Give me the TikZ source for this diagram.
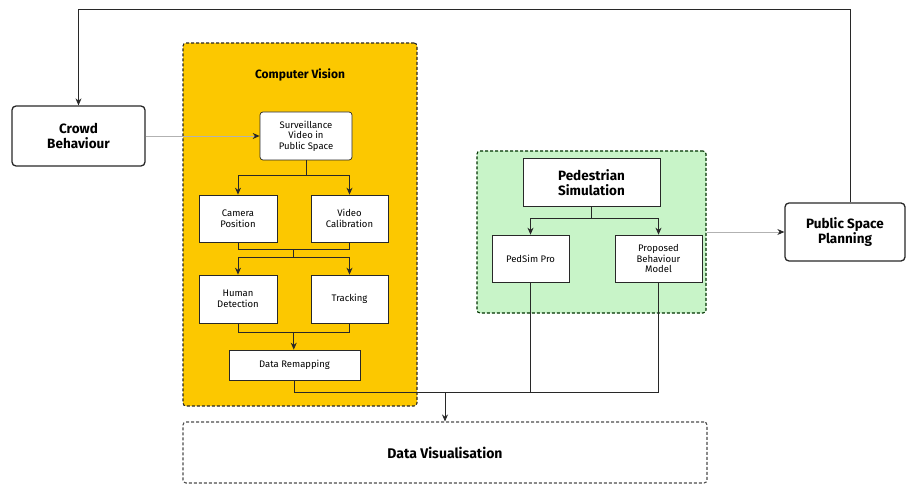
\documentclass[tikz,border=0pt]{standalone}
\usepackage{fontspec}
\setmainfont{Fira Sans}
\usetikzlibrary{arrows.meta,calc}
\definecolor{cvyellow}{RGB}{252,200,0}
\definecolor{simgreen}{RGB}{200,244,200}
\definecolor{boxline}{RGB}{40,40,40}
\begin{document}
\begin{tikzpicture}[x=1pt,y=-1pt,
  every node/.style={inner sep=0pt, align=center},
  mainbox/.style={draw=boxline, line width=1.3pt, rounded corners=4pt, fill=white, font=\fontsize{13.5}{15}\selectfont\bfseries},
  smallbox/.style={draw=boxline, line width=0.7pt, fill=white, font=\fontsize{9.5}{10.5}\selectfont},
  groupbox/.style={draw=boxline, dash pattern=on 3pt off 2pt, line width=1.1pt, rounded corners=3pt},
  conn/.style={draw=boxline, line width=0.8pt},
  arr/.style={conn, -{Stealth[length=7pt,width=6pt]}},
  grayarr/.style={draw=gray!60, line width=0.8pt, -{Stealth[length=7pt,width=6pt,color=boxline]}}
]
\useasboundingbox (0,0) rectangle (910,486);
% groups
\node[groupbox, fill=cvyellow, minimum width=234pt, minimum height=363pt] (cv) at (300,224.5) {};
\node[font=\fontsize{12}{14}\selectfont\bfseries] (cvtitle) at (300,75) {Computer Vision};
\node[groupbox, fill=simgreen, draw=black!80!green, minimum width=229pt, minimum height=162pt] (sim) at (591.5,232) {};
\node[groupbox, draw=black!70, fill=white, minimum width=524pt, minimum height=61pt, font=\fontsize{14}{16}\selectfont\bfseries] (dv) at (445,452.5) {Data Visualisation};
% main boxes
\node[mainbox, minimum width=133pt, minimum height=60pt] (crowd) at (78.5,136) {Crowd\\Behaviour};
\node[mainbox, minimum width=120pt, minimum height=58pt] (psp) at (845,232) {Public Space\\Planning};
% CV boxes
\node[smallbox, rounded corners=3pt, minimum width=92pt, minimum height=48pt] (surv) at (306,136) {Surveillance\\Video in\\Public Space};
\node[smallbox, minimum width=78pt, minimum height=47pt] (cam) at (238,218.5) {Camera\\Position};
\node[smallbox, minimum width=77pt, minimum height=47pt] (vid) at (349.5,218.5) {Video\\Calibration};
\node[smallbox, minimum width=78pt, minimum height=48pt] (hum) at (238,299) {Human\\Detection};
\node[smallbox, minimum width=77pt, minimum height=48pt] (trk) at (349.5,299) {Tracking};
\node[smallbox, minimum width=131pt, minimum height=30pt] (remap) at (294.5,365) {Data Remapping};
% Sim boxes
\node[smallbox, line width=1pt, minimum width=137pt, minimum height=48pt, font=\fontsize{13.5}{15}\selectfont\bfseries] (ped) at (591.5,183) {Pedestrian\\Simulation};
\node[smallbox, minimum width=77pt, minimum height=47pt] (pedsim) at (530.5,258.5) {PedSim Pro};
\node[smallbox, minimum width=87pt, minimum height=47pt] (prop) at (658.5,258.5) {Proposed\\Behaviour\\Model};
% feedback loop
\coordinate (topR) at ($(psp.north)+(5,-193)$);
\draw[arr] ($(psp.north)+(5,0)$) -- (topR) -| (crowd.north);
% crowd -> surveillance
\draw[grayarr] (crowd.east) -- (surv.west);
% CV flow
\draw[conn] (surv.south) -- ++(0,15) coordinate (j1);
\draw[arr] (j1) -| (cam.north);
\draw[arr] (j1) -| (vid.north);
\coordinate (m1) at ($(cam.south)!0.5!(vid.south)+(0,7)$);
\draw[conn] (cam.south) |- (m1) -| (vid.south);
\draw[conn] (m1) -- ++(0,8) coordinate (j2);
\draw[arr] (j2) -| (hum.north);
\draw[arr] (j2) -| (trk.north);
\coordinate (m2) at ($(hum.south)!0.5!(trk.south)+(0,9)$);
\draw[conn] (hum.south) |- (m2) -| (trk.south);
\draw[arr] (m2) -- (m2 |- remap.north);
% bus to data visualisation
\coordinate (bus) at ($(remap.south)+(0,12)$);
\draw[conn] (remap.south) -- (bus) -- (bus -| prop.south) -- (prop.south);
\draw[conn] (pedsim.south) -- (pedsim.south |- bus);
\draw[arr] (bus -| dv.north) -- (dv.north);
% simulation flow
\draw[conn] (ped.south) -- ++(0,11) coordinate (j3);
\draw[arr] (j3) -| (pedsim.north);
\draw[arr] (j3) -| (prop.north);
% sim -> public space planning
\draw[grayarr] (sim.east) -- (psp.west);
\end{tikzpicture}
\end{document}
